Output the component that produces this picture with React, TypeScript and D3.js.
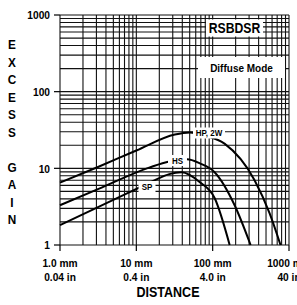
import React from "react";
import * as d3 from "d3";

const xTicks = [1, 10, 100, 1000];
const xTickMm = ["1.0 mm", "10 mm", "100 mm", "1000 mm"];
const xTickIn = ["0.04 in", "0.4 in", "4.0 in", "40 in"];
const yTicks = [1, 10, 100, 1000];
const yTickLabels = ["1", "10", "100", "1000"];
const yTitle = ["E", "X", "C", "E", "S", "S", "", "G", "A", "I", "N"];

const hpDist = [1, 3.2, 10, 32, 50, 79, 143, 354, 556, 774];
const hpGain = [6.5, 10.5, 17.1, 27.6, 29.4, 26.8, 21, 7.0, 2.6, 1];
const hsDist = [1, 3.2, 15, 27, 46, 68, 106, 194, 314];
const hsGain = [3.3, 5.4, 10.3, 12.3, 13.1, 11.6, 8.9, 3.3, 1];
const spDist = [1, 3.2, 10.5, 17.5, 27, 39, 68, 106, 167];
const spGain = [1.82, 3.14, 5.5, 7.0, 8.4, 8.9, 6.6, 4.1, 1];

const series = [
  { name: "HP, 2W", dist: hpDist, gain: hpGain },
  { name: "HS", dist: hsDist, gain: hsGain },
  { name: "SP", dist: spDist, gain: spGain },
];

const FONT = "'Liberation Sans', Arial, sans-serif";

function T({ x, y, size, anchor = "middle", sy = 1.14, children }: any) {
  return (
    <text
      transform={`translate(${x},${y}) scale(1,${sy})`}
      textAnchor={anchor}
      dominantBaseline="central"
      fontSize={size}
    >
      {children}
    </text>
  );
}

export default function App() {
  const x = d3.scaleLog().domain([1, 1000]).range([60, 289]);
  const y = d3.scaleLog().domain([1, 1000]).range([245, 15]);

  const gridVals: number[] = [];
  [1, 10, 100].forEach((dec) => {
    for (let i = 1; i <= 10; i++) gridVals.push(dec * i);
  });
  const uniq = Array.from(new Set(gridVals));

  const line = d3
    .line<[number, number]>()
    .x((d) => x(d[0]))
    .y((d) => y(d[1]))
    .curve(d3.curveMonotoneX);

  const labels = [
    { text: "HP, 2W", x: 209, y: 133, w: 32, h: 11 },
    { text: "HS", x: 177.5, y: 160.5, w: 19, h: 11 },
    { text: "SP", x: 147, y: 186.5, w: 17, h: 11 },
  ];

  return (
    <svg
      width={297}
      height={305}
      style={{ position: "absolute", left: 0, top: 0, background: "#fff" }}
      fontFamily={FONT}
      fontWeight="bold"
    >
      <rect x={0} y={0} width={297} height={305} fill="#fff" />
      {uniq.map((v) => (
        <line key={"vx" + v} x1={x(v)} x2={x(v)} y1={y(1000)} y2={y(1)} stroke="#111" strokeWidth={1.1} />
      ))}
      {uniq.map((v) => (
        <line key={"hy" + v} x1={x(1)} x2={x(1000)} y1={y(v)} y2={y(v)} stroke="#111" strokeWidth={1.1} />
      ))}
      {yTicks.map((v) => (
        <line key={"yt" + v} x1={54} x2={x(1)} y1={y(v)} y2={y(v)} stroke="#000" strokeWidth={1.2} />
      ))}
      {xTicks.map((v) => (
        <line key={"xt" + v} x1={x(v)} x2={x(v)} y1={y(1)} y2={251} stroke="#000" strokeWidth={1.2} />
      ))}
      {series.map((s) => (
        <path
          key={s.name}
          d={line(s.dist.map((d, i) => [d, s.gain[i]] as [number, number])) || ""}
          fill="none"
          stroke="#000"
          strokeWidth={2}
        />
      ))}
      {labels.map((l) => (
        <g key={l.text}>
          <rect x={l.x - l.w / 2} y={l.y - l.h / 2} width={l.w} height={l.h} fill="#fff" />
          <T x={l.x} y={l.y} size={8}>
            {l.text}
          </T>
        </g>
      ))}
      <rect x={206} y={19.5} width={57} height={17} fill="#fff" />
      <T x={234.5} y={28} size={12.2}>
        RSBDSR
      </T>
      <rect x={198} y={57} width={87} height={21} fill="#fff" />
      <T x={241.5} y={67.5} size={10}>
        Diffuse Mode
      </T>
      {yTicks.map((v, i) => (
        <T key={"yl" + v} x={50} y={y(v)} size={10.2} anchor="end">
          {yTickLabels[i]}
        </T>
      ))}
      {xTicks.map((v, i) => (
        <g key={"xl" + v}>
          <T x={x(v)} y={262.5} size={10.2}>
            {xTickMm[i]}
          </T>
          <T x={x(v)} y={276.5} size={10.2}>
            {xTickIn[i]}
          </T>
        </g>
      ))}
      <T x={168} y={292} size={12.5}>
        DISTANCE
      </T>
      {yTitle.map((c, i) => (
        <T key={"ytl" + i} x={12} y={45 + i * 17.5} size={11.8} sy={1.1}>
          {c}
        </T>
      ))}
    </svg>
  );
}
